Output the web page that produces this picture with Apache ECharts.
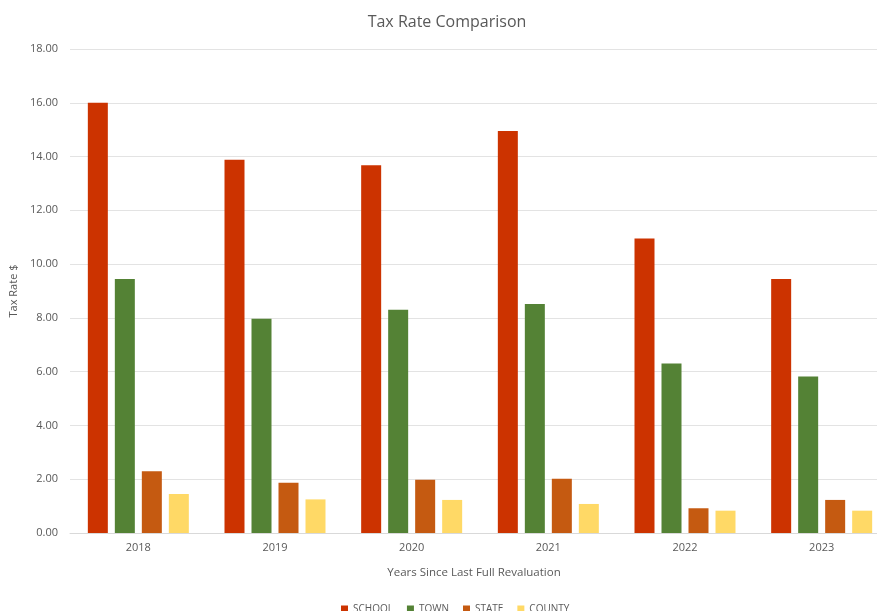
<!DOCTYPE html>
<html><head><meta charset="utf-8">
<script src="https://cdn.jsdelivr.net/npm/echarts@6/dist/echarts.min.js"></script>
<style>html,body{margin:0;padding:0;background:#fff;overflow:hidden}#c{width:890px;height:611px}</style>
</head><body><div id="c"></div>
<script>
var categories = ['2018','2019','2020','2021','2022','2023'];
var school = [16.00, 13.88, 13.68, 14.95, 10.95, 9.45];
var town = [9.45, 7.97, 8.30, 8.52, 6.30, 5.82];
var state = [2.30, 1.87, 1.98, 2.02, 0.92, 1.23];
var county = [1.45, 1.25, 1.23, 1.08, 0.83, 0.83];
var seriesNames = ['SCHOOL','TOWN','STATE','COUNTY'];
var colors = ['#cc3300','#548235','#c55a11','#ffd966'];
var font = '"Open Sans", sans-serif';
var chart = echarts.init(document.getElementById('c'));
var data = [school, town, state, county];
chart.setOption({
  animation: false,
  title: {text: 'Tax Rate Comparison', left: 442, textAlign: 'center', top: 9,
    textStyle: {fontFamily: font, fontSize: 16, fontWeight: 'normal', color: '#595959'}},
  legend: {bottom: -8, left: 336, itemWidth: 7, itemHeight: 7, itemGap: 14, icon: 'rect',
    textStyle: {fontFamily: font, fontSize: 10, color: '#595959'}, data: seriesNames},
  grid: {left: 70, top: 49, width: 820, bottom: 78, containLabel: false},
  xAxis: {type: 'category', data: categories,
    name: 'Years Since Last Full Revaluation', nameLocation: 'middle', nameGap: 34,
    nameTextStyle: {fontFamily: font, fontSize: 11.5, color: '#595959', padding: [0,0,0,-12]},
    axisLine: {lineStyle: {color: '#d9d9d9'}}, axisTick: {show: false},
    axisLabel: {fontFamily: font, fontSize: 11, color: '#595959', margin: 9}},
  yAxis: {type: 'value', min: 0, max: 18, interval: 2,
    name: 'Tax Rate $', nameLocation: 'middle', nameGap: 44, nameRotate: 90,
    nameTextStyle: {fontFamily: font, fontSize: 11, color: '#595959'},
    axisLine: {show: false}, axisTick: {show: false},
    axisLabel: {fontFamily: font, fontSize: 11, color: '#595959', margin: 12,
      formatter: function(v){return v.toFixed(2);}},
    splitLine: {lineStyle: {color: '#e3e3e3'}}},
  series: seriesNames.map(function(n, i){
    return {name: n, type: 'bar', data: data[i], barWidth: 20, barGap: '35%',
      itemStyle: {color: colors[i]}};
  })
});
</script></body></html>
